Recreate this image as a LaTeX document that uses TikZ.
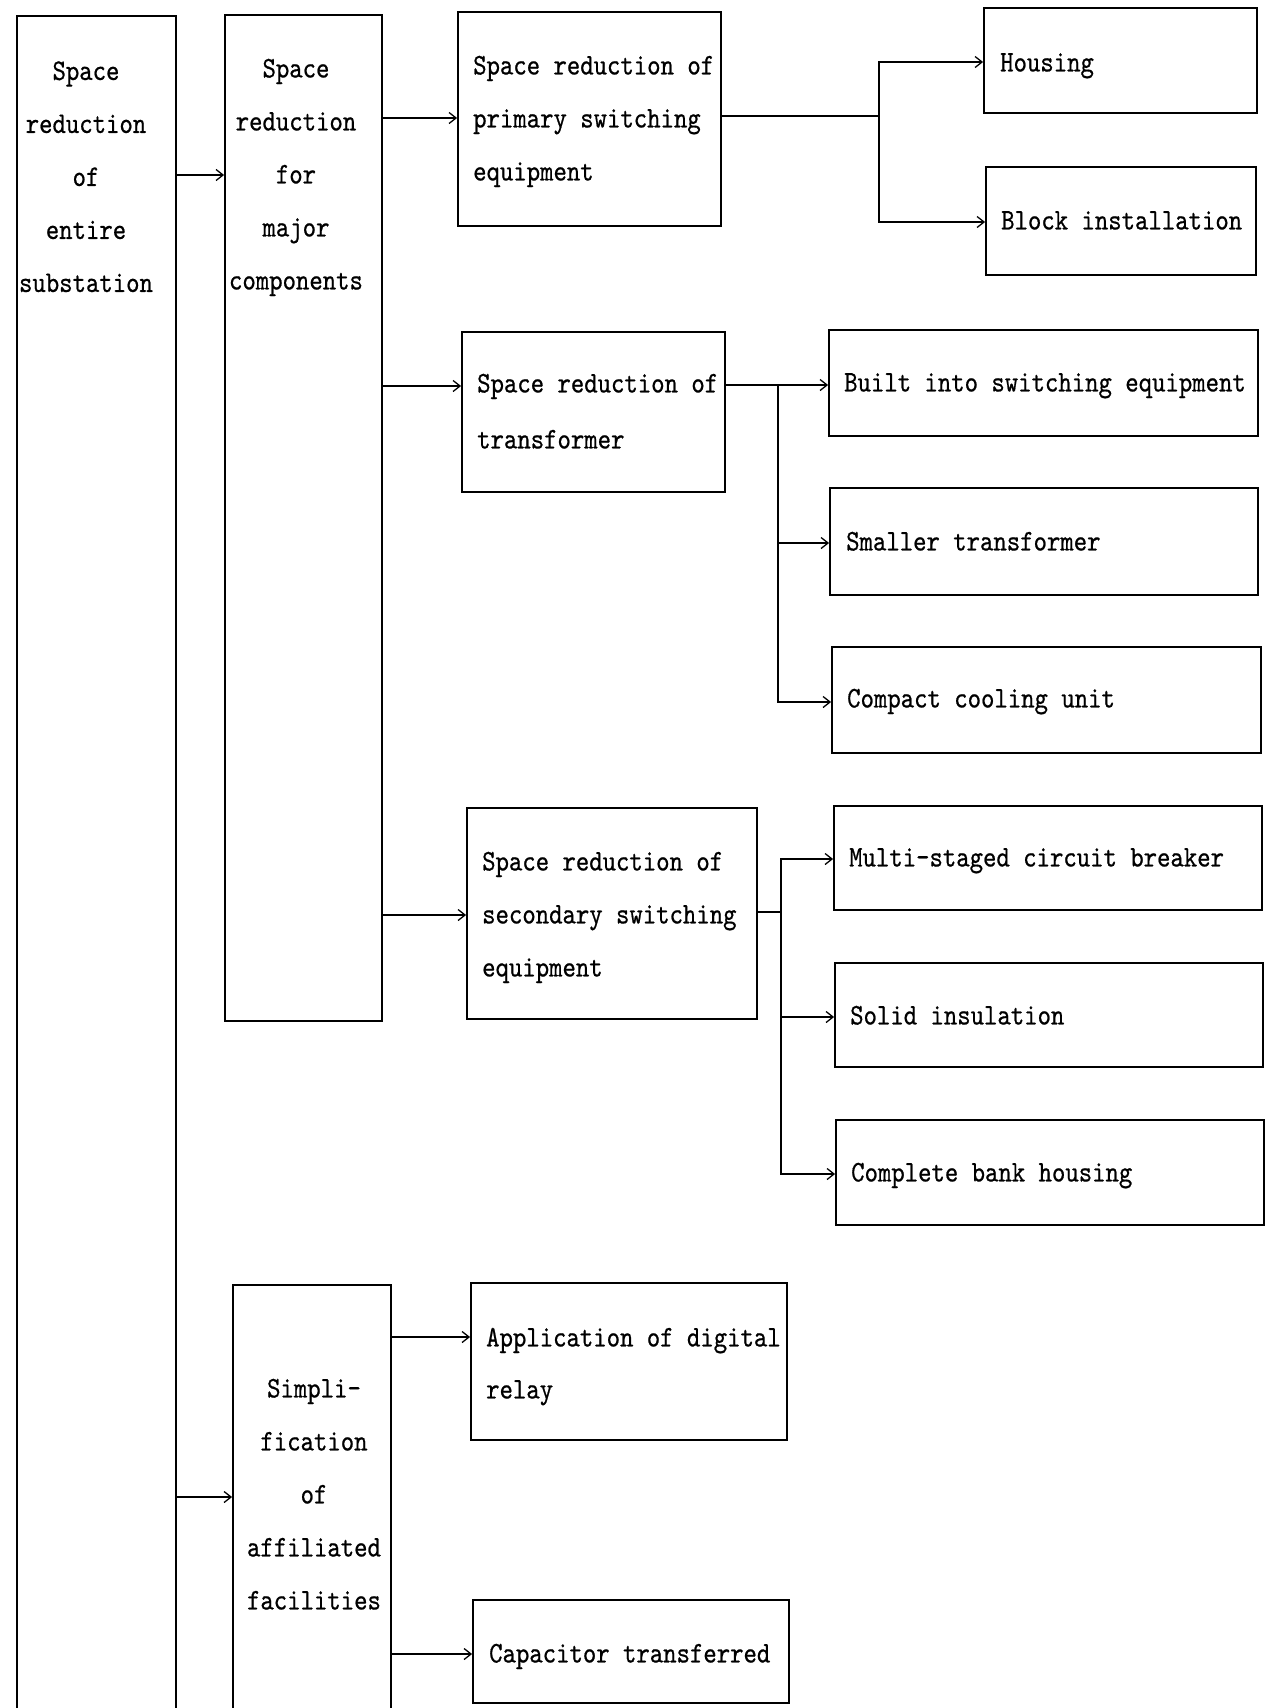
\documentclass[tikz,border=0pt]{standalone}
\usepackage{fontspec}
\usetikzlibrary{arrows.meta,fit}
\newfontfamily\lblfont{lmmono10-regular.otf}[FakeStretch=0.85,FakeBold=0.6]
\newcommand\boxfont{\lblfont\fontsize{30}{53}\selectfont}
\newcommand\lnstrut{\rule[-0.3em]{0pt}{1.03em}}
\begin{document}
\begin{tikzpicture}[x=1pt,y=-1pt,
  box/.style={draw, line width=1.8pt, inner sep=0pt},
  ln/.style={line width=1.6pt},
  arr/.style={ln, -{Straight Barb[length=7pt,width=11pt,line width=1.3pt]}},
  lbl/.style={font=\boxfont, inner sep=0pt},
  ltxt/.style={lbl, anchor=west, align=left},
  ctxt/.style={lbl, anchor=center, align=center}]
\path[use as bounding box, fill=white] (0,0) rectangle (1265,1708);

% ---- boxes ----
\node[box, fit={(17,16) (176,1760)}] (B1) {};
\node[box, fit={(225,15) (382,1021)}] (B2) {};
\node[box, fit={(233,1285) (391,1760)}] (F) {};
\node[box, fit={(458,12) (721,226)}] (P) {};
\node[box, fit={(984,8) (1257,113)}] (Hs) {};
\node[box, fit={(986,167) (1256,275)}] (Bl) {};
\node[box, fit={(462,332) (725,492)}] (T) {};
\node[box, fit={(829,330) (1258,436)}] (Bi) {};
\node[box, fit={(830,488) (1258,595)}] (Sm) {};
\node[box, fit={(832,647) (1261,753)}] (Cc) {};
\node[box, fit={(467,808) (757,1019)}] (S) {};
\node[box, fit={(834,806) (1262,910)}] (Mc) {};
\node[box, fit={(835,963) (1263,1067)}] (Si) {};
\node[box, fit={(836,1120) (1264,1225)}] (Cb) {};
\node[box, fit={(471,1283) (787,1440)}] (Ap) {};
\node[box, fit={(473,1600) (789,1703)}] (Ca) {};

% ---- labels ----
\node[ctxt] (B1t) at (86,179.5) {\lnstrut Space\\reduction\\of\\entire\\substation\lnstrut};
\node[ctxt] (B2t) at (296,177) {\lnstrut Space\\reduction\\for\\major\\components\lnstrut};
\node[ctxt] (Ft) at (314,1497) {\lnstrut Simpli-\\fication\\of\\affiliated\\facilities\lnstrut};
\node[ltxt] (Pt) at (473,121) {\lnstrut Space reduction of\\primary switching\\equipment\lnstrut};
\node[ltxt] (Tt) at (477,414) {\lnstrut Space reduction of\\[3pt]transformer\lnstrut};
\node[ltxt] (St) at (482,917) {\lnstrut Space reduction of\\secondary switching\\equipment\lnstrut};
\node[ltxt] (Apt) at (486,1366) {\lnstrut Application of digital\\[-1pt]relay\lnstrut};
\node[ltxt] (Cat) at (489,1656) {\lnstrut Capacitor transferred};
\node[ltxt] (Hst) at (1000,65) {\lnstrut Housing};
\node[ltxt] (Blt) at (1001,223) {\lnstrut Block installation};
\node[ltxt] (Bit) at (844,385) {\lnstrut Built into switching equipment};
\node[ltxt] (Smt) at (846,544) {\lnstrut Smaller transformer};
\node[ltxt] (Cct) at (847,701) {\lnstrut Compact cooling unit};
\node[ltxt] (Mct) at (849,860) {\lnstrut Multi-staged circuit breaker};
\node[ltxt] (Sit) at (850,1018) {\lnstrut Solid insulation};
\node[ltxt] (Cbt) at (851,1175) {\lnstrut Complete bank housing};

% ---- connector levels and junctions ----
\coordinate (y12) at (0,175);
\coordinate (yP) at (0,118);
\coordinate (yT) at (0,386);
\coordinate (yS) at (0,915);
\coordinate (yF) at (0,1497);
\coordinate (yAp) at (0,1337);
\coordinate (yCa) at (0,1654);
\coordinate (jP) at (879,116);
\coordinate (jPh) at (879,62);
\coordinate (jPb) at (879,222);
\coordinate (jT) at (778,385);
\coordinate (jTs) at (778,543);
\coordinate (jTc) at (778,702);
\coordinate (jS) at (781,912);
\coordinate (jSm) at (781,859);
\coordinate (jSs) at (781,1017);
\coordinate (jSc) at (781,1174);

% ---- connectors ----
\draw[arr] (B1.east |- y12) -- (B2.west |- y12);
\draw[arr] (B2.east |- yP) -- (P.west |- yP);
\draw[arr] (B2.east |- yT) -- (T.west |- yT);
\draw[arr] (B2.east |- yS) -- (S.west |- yS);
\draw[arr] (B1.east |- yF) -- (F.west |- yF);
\draw[arr] (F.east |- yAp) -- (Ap.west |- yAp);
\draw[arr] (F.east |- yCa) -- (Ca.west |- yCa);

\draw[ln] (P.east |- jP) -- (jP);
\draw[arr] (jP) -- (jPh) -- (Hs.west |- jPh);
\draw[arr] (jP) -- (jPb) -- (Bl.west |- jPb);

\draw[arr] (T.east |- jT) -- (Bi.west |- jT);
\draw[arr] (jT) -- (jTs) -- (Sm.west |- jTs);
\draw[arr] (jT) -- (jTc) -- (Cc.west |- jTc);

\draw[ln] (S.east |- jS) -- (jS);
\draw[arr] (jS) -- (jSm) -- (Mc.west |- jSm);
\draw[arr] (jS) -- (jSs) -- (Si.west |- jSs);
\draw[arr] (jS) -- (jSc) -- (Cb.west |- jSc);
\end{tikzpicture}
\end{document}
